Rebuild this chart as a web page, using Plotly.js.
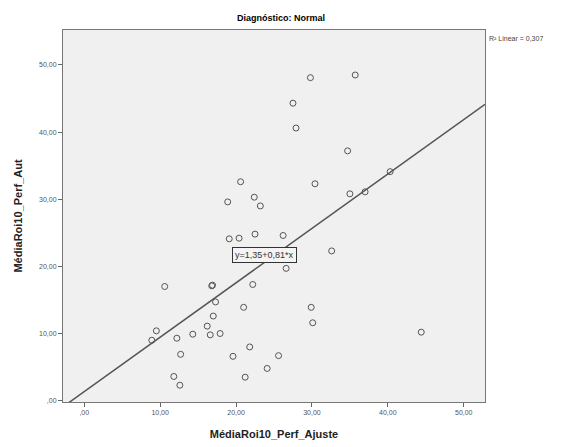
<!DOCTYPE html>
<html>
<head>
<meta charset="utf-8">
<script src="https://cdn.plot.ly/plotly-3.0.1.min.js"></script>
<style>html,body{margin:0;padding:0;background:#fff;}#chart{width:562px;height:447px;}</style>
</head>
<body>
<div id="chart"></div>
<script>
const perfAjuste = [29.8, 35.7, 27.5, 27.9, 34.7, 40.3, 20.6, 30.4, 35.0, 37.0, 18.9, 22.4, 23.2,
  19.1, 20.4, 22.5, 26.2, 32.6, 26.6, 10.6, 16.8, 16.9, 22.2, 17.3, 21.0, 29.9, 30.1, 17.0, 16.2,
  9.5, 8.9, 12.2, 14.3, 16.6, 17.9, 44.4, 21.8, 12.7, 19.6, 25.6, 24.1, 11.8, 21.2, 12.6];
const perfAut = [48.1, 48.5, 44.3, 40.6, 37.2, 34.1, 32.6, 32.3, 30.8, 31.1, 29.6, 30.3, 29.0,
  24.1, 24.2, 24.8, 24.6, 22.3, 19.7, 17.0, 17.1, 17.2, 17.3, 14.7, 13.9, 13.9, 11.6, 12.6, 11.1,
  10.4, 9.0, 9.3, 9.9, 9.8, 10.0, 10.2, 8.0, 6.9, 6.6, 6.7, 4.8, 3.6, 3.5, 2.3];
const fitIntercept = 1.35;
const fitSlope = 0.81;
const rSquared = "0,307";
const xTickVals = [0, 10, 20, 30, 40, 50];
const xTickText = [",00", "10,00", "20,00", "30,00", "40,00", "50,00"];
const yTickVals = [0, 10, 20, 30, 40, 50];
const yTickText = [",00", "10,00", "20,00", "30,00", "40,00", "50,00"];
const xRange = [-2.8, 52.8];
const yRange = [-0.2, 55.2];

const lineX = [xRange[0], xRange[1]];
const lineY = lineX.map(x => fitIntercept + fitSlope * x);

const traces = [
  {
    x: perfAjuste, y: perfAut, type: 'scatter', mode: 'markers',
    marker: {symbol: 'circle-open', size: 6, color: '#555555', line: {width: 1, color: '#555555'}},
    hoverinfo: 'skip', showlegend: false
  },
  {
    x: lineX, y: lineY, type: 'scatter', mode: 'lines',
    line: {color: '#555555', width: 1.5}, hoverinfo: 'skip', showlegend: false
  }
];

const ff = 'Arial, Liberation Sans, sans-serif';
const tickFont = {family: ff, size: 7, color: '#555'};
const layout = {
  width: 562, height: 447,
  margin: {l: 63, r: 77, t: 30, b: 45},
  paper_bgcolor: '#ffffff', plot_bgcolor: '#f0f0f0',
  title: {text: '<b>Diagnóstico: Normal</b>', font: {family: ff, size: 9, color: '#000'},
    x: 0.5, xanchor: 'center', y: 0.96, yanchor: 'middle'},
  xaxis: {
    range: xRange, tickvals: xTickVals, ticktext: xTickText, ticks: 'outside', ticklen: 4, tickcolor: '#666',
    showgrid: false, zeroline: false, showline: true, linecolor: '#777', linewidth: 1, mirror: true,
    tickfont: tickFont,
    title: {text: '<b>MédiaRoi10_Perf_Ajuste</b>', font: {family: ff, size: 11, color: '#222'}, standoff: 14}
  },
  yaxis: {
    range: yRange, tickvals: yTickVals, ticktext: yTickText, ticks: 'outside', ticklen: 4, tickcolor: '#666',
    showgrid: false, zeroline: false, showline: true, linecolor: '#777', linewidth: 1, mirror: true,
    tickfont: tickFont,
    title: {text: '<b>MédiaRoi10_Perf_Aut</b>', font: {family: ff, size: 11, color: '#222'}, standoff: 14}
  },
  annotations: [
    {
      x: 23.8, y: 21.7, xref: 'x', yref: 'y', showarrow: false,
      text: 'y=1,35+0,81*x', font: {family: ff, size: 9, color: '#333'},
      bgcolor: '#f4f4f4', bordercolor: '#333', borderwidth: 1, borderpad: 2
    },
    {
      x: 1.0, y: 0.978, xref: 'paper', yref: 'paper', xanchor: 'left', yanchor: 'middle', xshift: 2, showarrow: false,
      text: 'R² Linear = ' + rSquared, font: {family: ff, size: 7, color: '#444'}
    }
  ]
};

Plotly.newPlot('chart', traces, layout, {staticPlot: true, displayModeBar: false});
</script>
</body>
</html>
